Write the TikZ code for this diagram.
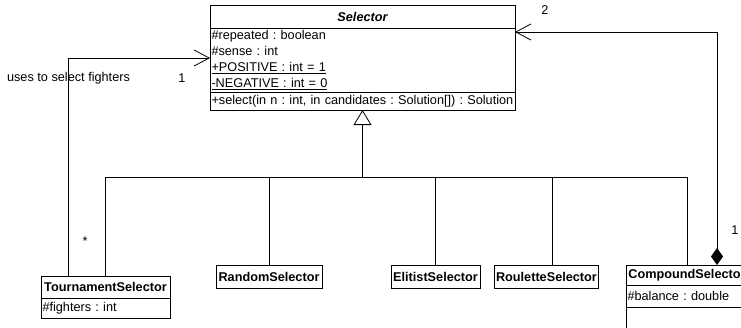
\documentclass[tikz,border=0pt]{standalone}
\usepackage{fontspec}
\setmainfont{Liberation Sans}
\usepackage{tikz}
\usetikzlibrary{arrows.meta, positioning}

\newcommand{\umlfont}{\fontsize{12.7}{16}\selectfont\frenchspacing}

\tikzset{
    classhead/.style={draw, line width=0.9pt, inner sep=2pt, outer sep=0pt,
        anchor=north west, font=\umlfont\bfseries},
    classbody/.style={draw, line width=0.9pt, inner sep=1.5pt, outer sep=0pt,
        align=left, text width=#1},
    link/.style={line width=0.8pt},
}

\begin{document}
\begin{tikzpicture}[x=1pt, y=-1pt, font=\umlfont, node distance=0pt]
    \useasboundingbox (0,0) rectangle (741,327);
    \clip (0,0) rectangle (741,327);

    % Lớp cha Selector
    \node[classhead, minimum width=305, minimum height=23, font=\umlfont\bfseries\itshape] (sel) at (210,5) {Selector};
    \node[classbody=302, minimum height=64, below=of sel] (sel-attr)
        {\#repeated : boolean\\ \#sense : int\\ \underline{+POSITIVE : int = 1}\\ \underline{-NEGATIVE : int = 0}};
    \node[classbody=302, minimum height=18, below=of sel-attr] (sel-ops)
        {+select(in n : int, in candidates : Solution[]) : Solution};

    % Các lớp con
    \node[classhead, minimum width=129, minimum height=22] (tour) at (41,276) {TournamentSelector};
    \node[classbody=126, minimum height=20, below=of tour] (tour-attr) {\#fighters : int};
    \node[classhead, minimum width=106, minimum height=23] (rand) at (216,265) {RandomSelector};
    \node[classhead, minimum width=89, minimum height=23] (elit) at (391,265) {ElitistSelector};
    \node[classhead, minimum width=104, minimum height=23] (roul) at (494,265) {RouletteSelector};
    \node[classhead, minimum width=122, minimum height=20] (comp) at (626,265) {CompoundSelector};
    \node[classbody=119, minimum height=22, below=of comp] (comp-attr) {\#balance : double};
    \node[classbody=119, minimum height=30, below=of comp-attr] (comp-ops) {};

    % Quan hệ kế thừa
    \coordinate (bus) at (sel-ops.south |- 0,177);
    \draw[link, -{Triangle[open, length=15pt, width=18pt]}] (bus) -- (sel-ops.south);
    \draw[link] (tour.north |- bus) -- (comp.north |- bus);
    \foreach \n in {tour, rand, elit, comp}
        \draw[link] (\n.north) -- (\n.north |- bus);
    \draw[link] ([xshift=6]roul.north) -- ([xshift=6]roul.north |- bus);

    % Liên kết TournamentSelector -> Selector
    \draw[link, -{Straight Barb[length=15pt, width=16pt]}] ([xshift=-37.5]tour.north) |- (sel-attr.west |- 0,58);
    \node (uses) at (68.5,78) {uses to select fighters};
    \node (m-sel-left) at (182,78) {1};
    \node (m-tour) at (85,241) {*};

    % Liên kết CompoundSelector -> Selector
    \draw[link, {Diamond[length=17pt, width=12pt]}-{Straight Barb[length=15pt, width=16pt]}] ([xshift=30]comp.north) |- (sel-attr.east |- 0,32);
    \node (m-sel-right) at (545,10) {2};
    \node (m-comp) at (735,230) {1};
\end{tikzpicture}
\end{document}
